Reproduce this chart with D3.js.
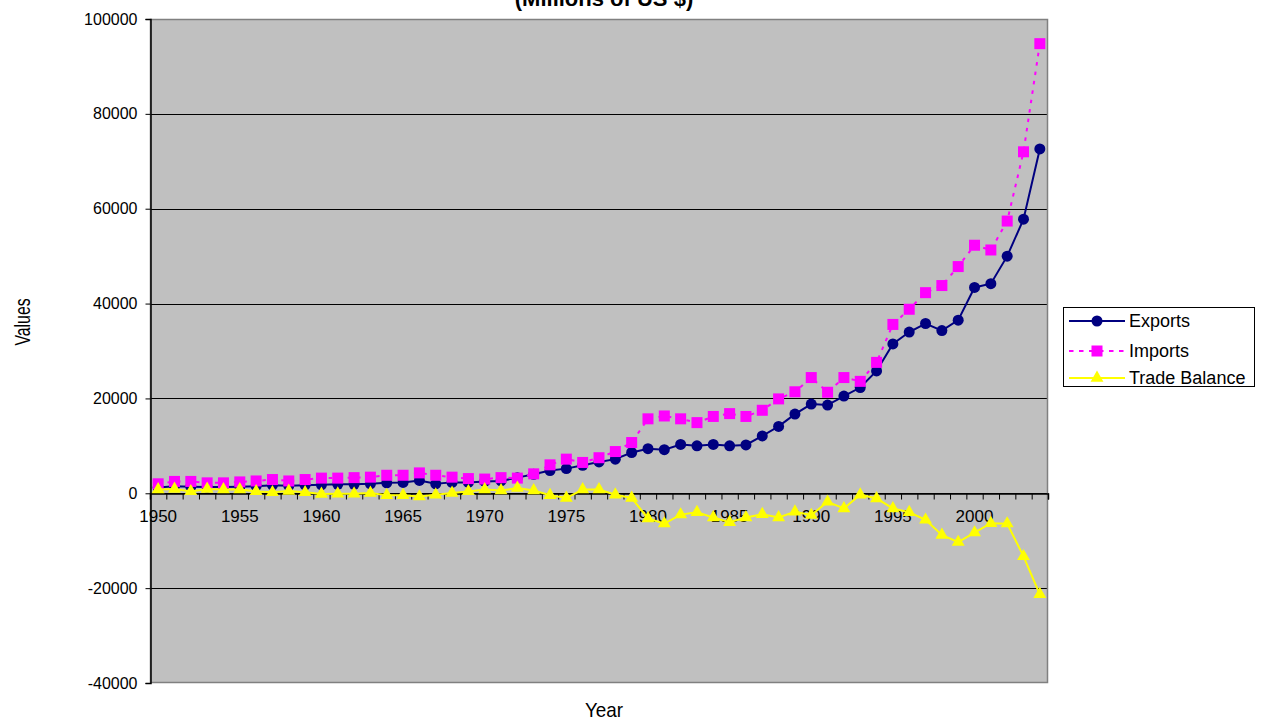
<!DOCTYPE html>
<html>
<head>
<meta charset="utf-8">
<script src="https://cdn.jsdelivr.net/npm/d3@7"></script>
<style>
  html, body { margin: 0; padding: 0; background: #fff; }
  svg { display: block; }
  text { font-family: Arial, "Liberation Sans", sans-serif; fill: #000; }
</style>
</head>
<body>
<svg id="chart" width="1263" height="724"></svg>
<script>
// Trade figures, millions of US $
const years = d3.range(1950, 2005);

const exportsVals = [
  1200, 1500, 1400, 1300, 1300, 1400, 1500, 1700, 1600, 1700,
  1800, 1900, 1900, 2000, 2200, 2300, 2700, 2000, 2300, 2300,
  2500, 2600, 3300, 4000, 4800, 5200, 5900, 6600, 7200, 8600,
  9400, 9200, 10300, 10000, 10300, 10000, 10200, 12100, 14100, 16700,
  18800, 18600, 20500, 22300, 25800, 31500, 34000, 35800, 34300, 36500,
  43400, 44200, 50000, 57800, 72600
];

const importsVals = [
  2000, 2500, 2500, 2200, 2200, 2400, 2600, 2900, 2600, 2900,
  3200, 3200, 3300, 3400, 3800, 3800, 4300, 3800, 3400, 3100,
  3000, 3300, 3200, 4100, 6000, 7200, 6500, 7500, 8800, 10700,
  15700, 16300, 15700, 14900, 16200, 16800, 16200, 17500, 19900, 21400,
  24400, 21300, 24400, 23600, 27600, 35600, 38800, 42300, 43800, 47800,
  52300, 51300, 57400, 72000, 94800
];

const balanceVals = [
  800, 900, 400, 900, 800, 800, 400, 200, 500, 200,
  -150, -100, -100, 50, -400, -400, -700, -300, 50, 400,
  800, 600, 1100, 600, -400, -1000, 800, 800, -300, -1000,
  -5300, -6400, -4500, -4000, -5100, -6100, -5100, -4400, -5100, -3900,
  -4600, -1800, -3200, -300, -1100, -3200, -4000, -5600, -8800, -10300,
  -8300, -6300, -6400, -13300, -21300
];

const yTicks = [-40000, -20000, 0, 20000, 40000, 60000, 80000, 100000];
const xLabelYears = [1950, 1955, 1960, 1965, 1970, 1975, 1980, 1985, 1990, 1995, 2000];

const seriesNames = ["Exports", "Imports", "Trade Balance"];

// Layout
const plot = { left: 150, top: 19, right: 1048, bottom: 683 };
const svg = d3.select("#chart");

const x = d3.scaleBand().domain(years).range([plot.left, plot.right]).paddingInner(0).paddingOuter(0);
const xBound = d3.scaleLinear().domain([0, years.length]).range([plot.left, plot.right]);
const y = d3.scaleLinear().domain([-40000, 100000]).range([plot.bottom, plot.top]);
const cx = yr => x(yr) + x.bandwidth() / 2;

// Plot area background
svg.append("rect")
  .attr("x", plot.left).attr("y", plot.top)
  .attr("width", plot.right - plot.left).attr("height", plot.bottom - plot.top)
  .attr("fill", "#c0c0c0");

// Horizontal gridlines
svg.append("g").selectAll("line")
  .data(yTicks.filter(v => v !== -40000 && v !== 100000))
  .join("line")
  .attr("x1", plot.left).attr("x2", plot.right)
  .attr("y1", d => Math.round(y(d)) + 0.5).attr("y2", d => Math.round(y(d)) + 0.5)
  .attr("stroke", "#000").attr("stroke-width", 1);

// Plot border (grey)
svg.append("rect")
  .attr("x", plot.left + 0.5).attr("y", plot.top + 0.5)
  .attr("width", plot.right - plot.left - 1).attr("height", plot.bottom - plot.top - 1)
  .attr("fill", "none").attr("stroke", "#808080").attr("stroke-width", 1.5);

// Y axis
const yAxis = d3.axisLeft(y).tickValues(yTicks).tickSize(5).tickPadding(8).tickFormat(d => String(d));
const gy = svg.append("g").attr("transform", `translate(${plot.left + 0.5},0)`).call(yAxis);
gy.select(".domain").attr("stroke", "#000").attr("stroke-width", 1.5);
gy.selectAll(".tick line").attr("stroke", "#000");
gy.selectAll(".tick text").attr("font-size", 16).attr("font-family", "Arial, 'Liberation Sans', sans-serif").attr("fill", "#000");

// X axis along zero line, ticks at category boundaries
const zeroY = Math.round(y(0)) + 0.5;
const xAxis = d3.axisBottom(xBound).tickValues(d3.range(0, years.length + 1)).tickSize(6).tickFormat("");
const gx = svg.append("g").attr("transform", `translate(0,${zeroY})`).call(xAxis);
gx.select(".domain").attr("stroke", "#000").attr("stroke-width", 1.5);
gx.selectAll(".tick line").attr("stroke", "#000");

svg.append("g").selectAll("text")
  .data(xLabelYears)
  .join("text")
  .attr("x", d => cx(d))
  .attr("y", zeroY + 28)
  .attr("text-anchor", "middle")
  .attr("font-size", 17)
  .text(d => d);

// Series lines
const lineGen = vals => d3.line().x((d, i) => cx(years[i])).y(d => y(d))(vals);

// Exports
svg.append("path").attr("d", lineGen(exportsVals))
  .attr("fill", "none").attr("stroke", "#000080").attr("stroke-width", 2);
svg.append("g").selectAll("circle")
  .data(exportsVals).join("circle")
  .attr("cx", (d, i) => cx(years[i])).attr("cy", d => y(d)).attr("r", 5.5)
  .attr("fill", "#000080");

// Imports
svg.append("path").attr("d", lineGen(importsVals))
  .attr("fill", "none").attr("stroke", "#ff00ff").attr("stroke-width", 2)
  .attr("stroke-dasharray", "3.5,6");
const sq = 11;
svg.append("g").selectAll("rect")
  .data(importsVals).join("rect")
  .attr("x", (d, i) => cx(years[i]) - sq / 2).attr("y", d => y(d) - sq / 2)
  .attr("width", sq).attr("height", sq)
  .attr("fill", "#ff00ff");

// Trade balance
const tri = d3.symbol().type(d3.symbolTriangle).size(72);
svg.append("path").attr("d", lineGen(balanceVals))
  .attr("fill", "none").attr("stroke", "#ffff00").attr("stroke-width", 2);
svg.append("g").selectAll("path")
  .data(balanceVals).join("path")
  .attr("d", tri)
  .attr("transform", (d, i) => `translate(${cx(years[i])},${y(d)})`)
  .attr("fill", "#ffff00");

// Titles
svg.append("text")
  .attr("x", 604).attr("y", 6)
  .attr("text-anchor", "middle")
  .attr("font-family", "'Times New Roman', 'Liberation Serif', serif")
  .attr("font-weight", "bold")
  .attr("font-size", 22)
  .text("(Millions of US $)");

svg.append("text")
  .attr("transform", "translate(30,322) rotate(-90) scale(0.72,1)")
  .attr("text-anchor", "middle")
  .attr("font-size", 22)
  .text("Values");

svg.append("text")
  .attr("transform", "translate(604,717) scale(0.9,1)")
  .attr("text-anchor", "middle")
  .attr("font-size", 21)
  .text("Year");

// Legend
const lg = svg.append("g");
lg.append("rect")
  .attr("x", 1063.5).attr("y", 307.5).attr("width", 191).attr("height", 79)
  .attr("fill", "#fff").attr("stroke", "#000").attr("stroke-width", 1);

const legendRows = [
  { name: seriesNames[0], color: "#000080", dash: null, y: 321, marker: "circle" },
  { name: seriesNames[1], color: "#ff00ff", dash: "4.5,5.5", y: 351, marker: "square" },
  { name: seriesNames[2], color: "#ffff00", dash: null, y: 378, marker: "triangle" }
];
legendRows.forEach(r => {
  lg.append("line")
    .attr("x1", 1069).attr("x2", 1125).attr("y1", r.y).attr("y2", r.y)
    .attr("stroke", r.color).attr("stroke-width", 2)
    .attr("stroke-dasharray", r.dash);
  if (r.marker === "circle") {
    lg.append("circle").attr("cx", 1097).attr("cy", r.y).attr("r", 5.5).attr("fill", r.color);
  } else if (r.marker === "square") {
    lg.append("rect").attr("x", 1091.5).attr("y", r.y - 5.5).attr("width", 11).attr("height", 11).attr("fill", r.color);
  } else {
    lg.append("path").attr("d", tri).attr("transform", `translate(1097,${r.y})`).attr("fill", r.color);
  }
  lg.append("text")
    .attr("x", 1129).attr("y", r.y + 6)
    .attr("font-size", 18)
    .text(r.name);
});
</script>
</body>
</html>
